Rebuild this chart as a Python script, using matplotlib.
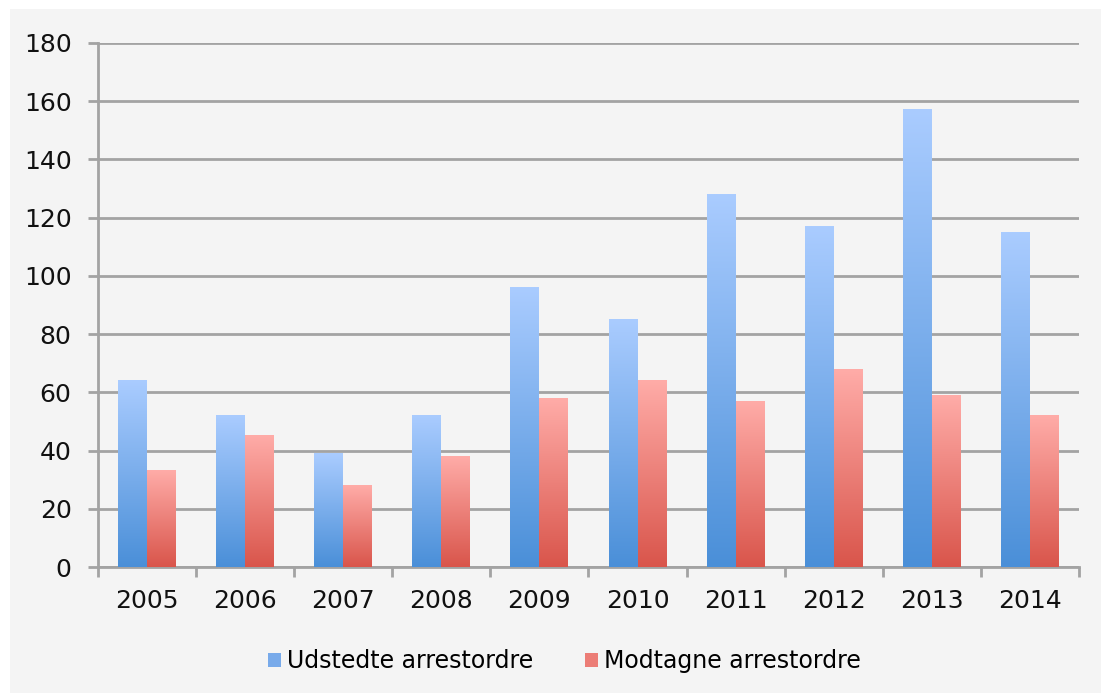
import numpy as np
import matplotlib.pyplot as plt
from matplotlib.patches import Rectangle
from matplotlib.colors import LinearSegmentedColormap

years = ["2005", "2006", "2007", "2008", "2009", "2010", "2011", "2012", "2013", "2014"]
udstedte = [64, 52, 39, 52, 96, 85, 128, 117, 157, 115]
modtagne = [33, 45, 28, 38, 58, 64, 57, 68, 59, 52]
labels = ["Udstedte arrestordre", "Modtagne arrestordre"]

blue_cmap = LinearSegmentedColormap.from_list("b", ["#4a8fd8", "#aaccff"])
red_cmap = LinearSegmentedColormap.from_list("r", ["#d9554b", "#ffaca8"])

plt.rcParams["font.family"] = ["DejaVu Sans"]

fig = plt.figure(figsize=(11.01, 6.93), dpi=100)
fig.patch.set_facecolor("white")
# grey panel behind the chart
fig.patches.append(Rectangle((10 / 1101, 0), 1 - 10 / 1101, 1 - 9 / 693,
                             transform=fig.transFigure, facecolor="#f4f4f4",
                             edgecolor="none", zorder=-10))

ax = fig.add_axes([0.089, 0.1818, 0.891, 0.7562])
ax.set_facecolor("none")

x = np.arange(len(years))
w = 0.295
grad = np.linspace(0, 1, 256).reshape(-1, 1)

for i in range(len(years)):
    for val, off, cmap in [(udstedte[i], -w, blue_cmap), (modtagne[i], 0, red_cmap)]:
        x0 = x[i] + off
        ax.imshow(grad, cmap=cmap, origin="lower", aspect="auto",
                  extent=(x0, x0 + w, 0, val), zorder=3, interpolation="bilinear")

# legend handles
h1 = ax.bar([0], [0], color="#78aaea", label=labels[0])
h2 = ax.bar([0], [0], color="#ec7d76", label=labels[1])

ax.set_xlim(-0.5, len(years) - 0.5)
ax.set_ylim(0, 180)
ax.set_yticks(range(0, 181, 20))
ax.set_xticks(x)
ax.set_xticklabels(years)
ax.set_xticks(np.arange(-0.5, len(years), 1), minor=True)

ax.yaxis.grid(True, color="#a3a3a3", linewidth=2, zorder=0)
ax.set_axisbelow(True)
for s in ["top", "right"]:
    ax.spines[s].set_visible(False)
for s in ["left", "bottom"]:
    ax.spines[s].set_color("#a3a3a3")
    ax.spines[s].set_linewidth(2)

ax.tick_params(axis="x", which="major", length=0, pad=16, labelsize=18, labelcolor="#111111")
ax.tick_params(axis="x", which="minor", length=7, width=2, color="#a3a3a3")
ax.tick_params(axis="y", length=7, width=2, color="#a3a3a3", pad=12,
               labelsize=18, labelcolor="#111111")

fig.legend(handles=[h1, h2], labels=labels, loc="center", bbox_to_anchor=(0.513, 0.046),
           ncol=2, frameon=False, fontsize=17, handlelength=0.55, handleheight=0.55,
           handletextpad=0.25, columnspacing=2.2)

plt.savefig("out.png", dpi=100)
plt.close()
